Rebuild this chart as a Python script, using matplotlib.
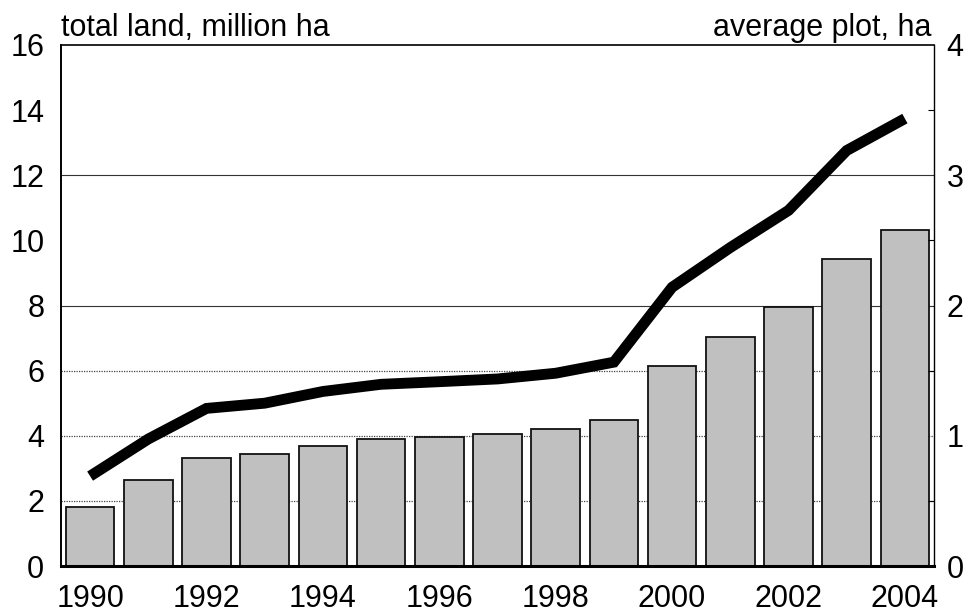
import numpy as np
import matplotlib.pyplot as plt

plt.rcParams['font.family'] = ['Liberation Sans', 'DejaVu Sans']

years = list(range(1990, 2005))
# total land, million ha (left axis, bars)
total_land = [1.8, 2.64, 3.32, 3.44, 3.69, 3.9, 3.97, 4.06, 4.21, 4.47,
              6.14, 7.04, 7.96, 9.42, 10.31]
# average plot, ha (right axis, line)
avg_plot = [0.69, 0.975, 1.21, 1.25, 1.34, 1.395, 1.415, 1.436, 1.48, 1.565,
            2.14, 2.445, 2.73, 3.19, 3.435]
left_ticks = [0, 2, 4, 6, 8, 10, 12, 14, 16]
right_ticks = [0, 1, 2, 3, 4]

fig = plt.figure(figsize=(9.71, 6.13), dpi=100)
ax = fig.add_axes([61 / 971, 1 - 566 / 613, 873 / 971, 521 / 613])
x = np.arange(len(years))

# grid lines drawn first so bars sit over them
for v in [2, 4, 6]:
    ax.axhline(v, color='#444444', lw=0.9, ls=(0, (1, 1)), zorder=0)
for v in [8, 12]:
    ax.axhline(v, color='#333333', lw=0.8, zorder=0)

ax.bar(x, total_land, width=0.835, color='#c0c0c0', edgecolor='#111111',
       linewidth=1.3, zorder=2)
ax.set_xlim(-0.5, len(years) - 0.5)
ax.set_ylim(0, 16)
ax.set_yticks(left_ticks)
ax.set_xticks(x[::2])
ax.set_xticklabels([str(y) for y in years[::2]])
ax.tick_params(axis='y', length=0, pad=12, labelsize=22)
ax.tick_params(axis='x', length=0, pad=13, labelsize=22)
ax.spines['bottom'].set_linewidth(2.2)
ax.spines['left'].set_linewidth(1.4)
ax.spines['top'].set_linewidth(1.2)
ax.spines['right'].set_linewidth(1.0)

ax2 = ax.twinx()
ax2.plot(x, avg_plot, color='black', lw=7.8, solid_joinstyle='miter',
         solid_capstyle='butt', zorder=3)
ax2.set_ylim(0, 4)
ax2.set_yticks(right_ticks)
ax2.set_yticks(np.arange(0, 4.01, 0.5), minor=True)
ax2.tick_params(axis='y', which='major', direction='in', length=0, pad=9,
                labelsize=22)
ax2.tick_params(axis='y', which='minor', direction='in', length=4, width=0.8)
for s in ax2.spines.values():
    s.set_visible(False)

fig.text(61 / 971, 1 - 36 / 613, 'total land, million ha', fontsize=22,
         ha='left', va='baseline')
fig.text(931 / 971, 1 - 36 / 613, 'average plot, ha', fontsize=22,
         ha='right', va='baseline')

fig.savefig('out.png', dpi=100)
